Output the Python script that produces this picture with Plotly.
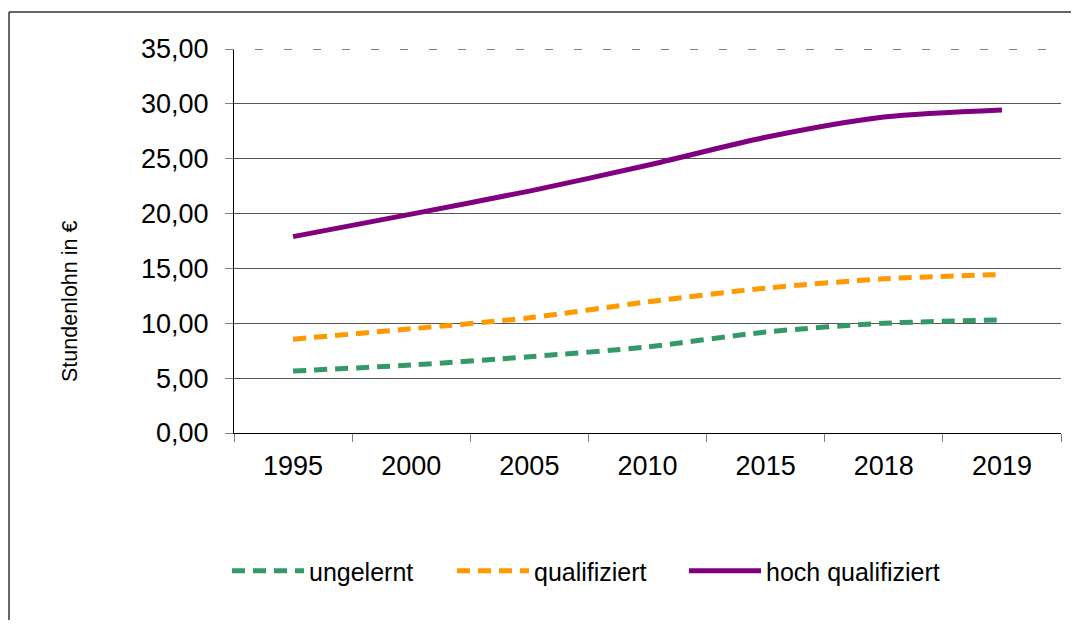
import plotly.graph_objects as go

# ── data ──
years = ["1995", "2000", "2005", "2010", "2015", "2018", "2019"]
ungelernt = [5.65, 6.2, 6.95, 7.85, 9.2, 10.0, 10.3]
qualifiziert = [8.55, 9.5, 10.5, 11.95, 13.2, 14.05, 14.45]
hoch_qualifiziert = [17.9, 19.95, 22.05, 24.4, 26.95, 28.8, 29.45]
y_ticks = [0, 5, 10, 15, 20, 25, 30, 35]

OFF = 8  # page body margin shifts the figure by 8px
W, H = 1079 - 2 * OFF, 628 - 2 * OFF  # keep the page free of scrollbars
L, T = 234 - OFF, 49 - OFF
R, B = W - (1061 - OFF), H - (433 - OFF)
PW, PH = W - L - R, H - T - B
FONT = "Arial, Liberation Sans, sans-serif"

series = [
    ("ungelernt", ungelernt, "#339966", "13px,8px", "legend"),
    ("qualifiziert", qualifiziert, "#FF9900", "13px,8px", "legend2"),
    ("hoch qualifiziert", hoch_qualifiziert, "#800080", "solid", "legend3"),
]

fig = go.Figure()
for name, vals, color, dash, leg in series:
    fig.add_trace(go.Scatter(
        x=years, y=vals, name=name, mode="lines", legend=leg,
        line=dict(color=color, width=5, dash=dash, shape="spline", smoothing=0.8)))

# legend x positions (screen px) of each entry's sample line
leg_x = {"legend": 232, "legend2": 457, "legend3": 689}
leg_common = dict(orientation="h", xref="container", yref="container",
                  yanchor="middle", y=(H - (571 - OFF)) / H, xanchor="left",
                  font=dict(family=FONT, size=25, color="black"),
                  itemwidth=72, bgcolor="rgba(0,0,0,0)", tracegroupgap=0)

fig.update_layout(
    width=W, height=H,
    margin=dict(l=L, r=R, t=T, b=B, autoexpand=False),
    paper_bgcolor="white", plot_bgcolor="white",
    separators=",.",
    font=dict(family=FONT, color="black"),
    showlegend=True,
    legend=dict(x=(leg_x["legend"] - OFF - 5) / W, **leg_common),
    legend2=dict(x=(leg_x["legend2"] - OFF - 5) / W, **leg_common),
    legend3=dict(x=(leg_x["legend3"] - OFF - 5) / W, **leg_common),
    xaxis=dict(
        type="category", tickson="boundaries", ticks="outside", ticklen=8,
        tickcolor="#808080", showline=True, linecolor="black", linewidth=1,
        showgrid=False, tickfont=dict(size=27, color="black"),
        ticklabelstandoff=9,
        range=[-0.5, len(years) - 0.5], automargin=False),
    yaxis=dict(
        range=[0, 35], tickvals=y_ticks, tickformat=".2f", ticks="outside",
        ticklen=8, tickcolor="#808080", showline=True, linecolor="black",
        linewidth=1, showgrid=True, gridcolor="#555555", gridwidth=1,
        zeroline=False, tickfont=dict(size=27, color="black"),
        ticklabelstandoff=11, automargin=False),
)

# y axis title (sits a little below the plot centre in the reference)
fig.add_annotation(text="Stundenlohn in €", textangle=-90, showarrow=False,
                   xref="paper", yref="paper",
                   x=(70 - OFF - L) / PW, y=(H - B - (302 - OFF)) / PH,
                   xanchor="center", yanchor="middle",
                   font=dict(family=FONT, size=21.5, color="black"))

# top gridline at 35 is dashed: cover the solid one, then draw the dashed one
fig.add_shape(type="line", xref="paper", yref="y", x0=0, x1=1, y0=35, y1=35,
              line=dict(color="white", width=2), layer="above")
fig.add_shape(type="line", xref="paper", yref="y", x0=-8 / PW, x1=1, y0=35, y1=35,
              line=dict(color="#808080", width=2, dash="8px,21px"), layer="above")

# outer frame: only its top and left edges are in view
fx0 = (9 - OFF - L) / PW
fy1 = 1 + (T - (12 - OFF)) / PH
frame = dict(color="#333333", width=1.5)
fig.add_shape(type="line", xref="paper", yref="paper", x0=fx0, x1=1.2,
              y0=fy1, y1=fy1, line=frame, layer="below")
fig.add_shape(type="line", xref="paper", yref="paper", x0=fx0, x1=fx0,
              y0=fy1, y1=-1.0, line=frame, layer="below")

fig.write_html("out.html")
